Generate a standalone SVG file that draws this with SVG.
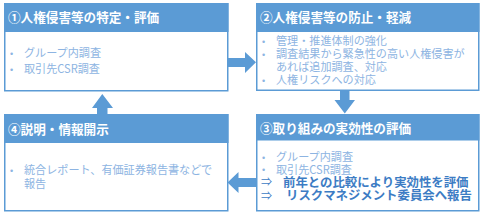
<svg xmlns="http://www.w3.org/2000/svg" width="481" height="214" viewBox="0 0 481 214">
<style>
.box{fill:#ffffff;stroke:#5B9BD5;stroke-width:1.5}
.hdr{fill:#5B9BD5}
.ht{font-family:"Noto Sans CJK JP","Liberation Sans",sans-serif;font-weight:bold;font-size:12.6px;fill:#ffffff}
.bt{font-family:"Noto Sans CJK JP","Liberation Sans",sans-serif;font-size:11.1px;fill:#8DB4E2}
.bl{font-family:"Liberation Sans",sans-serif;font-size:9px;fill:#8DB4E2}
.st{font-family:"Noto Sans CJK JP","Liberation Sans",sans-serif;font-weight:bold;font-size:12.4px;fill:#3C7CC4}
.ar{font-family:"Noto Sans CJK JP","Liberation Sans",sans-serif;font-size:11px;fill:#3C7CC4}
.arrow{fill:#5B9BD5}
</style>
<g id="node1">
<rect class="box" x="4.75" y="3.75" width="223" height="87"/>
<rect class="hdr" x="4" y="3" width="224.5" height="29"/>
<text class="ht" x="8" y="21.8">①人権侵害等の特定・評価</text>
<text class="bl" x="10" y="56.5">•</text>
<text class="bt" x="24" y="57.3">グループ内調査</text>
<text class="bl" x="10" y="72.5">•</text>
<text class="bt" x="24" y="73">取引先CSR調査</text>
</g>
<g id="node2">
<rect class="box" x="256.75" y="3.75" width="222" height="86.5"/>
<rect class="hdr" x="256" y="3" width="223.5" height="29"/>
<text class="ht" x="260" y="22">②人権侵害等の防止・軽減</text>
<text class="bl" x="262" y="44.5">•</text>
<text class="bt" x="276" y="44.8">管理・推進体制の強化</text>
<text class="bl" x="262" y="57.5">•</text>
<text class="bt" x="276" y="57.6">調査結果から緊急性の高い人権侵害が</text>
<text class="bt" x="276" y="70.8">あれば追加調査、対応</text>
<text class="bl" x="262" y="84">•</text>
<text class="bt" x="276" y="84">人権リスクへの対応</text>
</g>
<g id="node3">
<rect class="box" x="256.75" y="114.75" width="222" height="96"/>
<rect class="hdr" x="256" y="114" width="223.5" height="26.5"/>
<text class="ht" x="260" y="133.3">③取り組みの実効性の評価</text>
<text class="bl" x="262" y="160.5">•</text>
<text class="bt" x="276" y="161">グループ内調査</text>
<text class="bl" x="262" y="173">•</text>
<text class="bt" x="276" y="173.5">取引先CSR調査</text>
<text class="ar" x="261" y="186.3">⇒</text>
<text class="st" x="283" y="186.6">前年との比較により実効性を評価</text>
<text class="ar" x="261" y="199.5">⇒</text>
<text class="st" x="286" y="199.9">リスクマネジメント委員会へ報告</text>
</g>
<g id="node4">
<rect class="box" x="4.75" y="114.75" width="223" height="96"/>
<rect class="hdr" x="4" y="114" width="224.5" height="29"/>
<text class="ht" x="8" y="133.5">④説明・情報開示</text>
<text class="bl" x="10" y="173.8">•</text>
<text class="bt" x="24" y="174.3">統合レポート、有価証券報告書などで</text>
<text class="bt" x="24" y="188.3">報告</text>
</g>
<g id="connectors">
<polygon class="arrow" points="228,58 245,58 245,52 256,62.3 245,73 245,67 228,67"/>
<polygon class="arrow" points="340,90 349.5,90 349.5,100 355,100 344.8,113.5 334.5,100 340,100"/>
<polygon class="arrow" points="97,114 97,108 92,108 102.3,94 113,108 107.5,108 107.5,114"/>
<polygon class="arrow" points="256,178 238.5,178 238.5,172 227.5,182.5 238.5,193 238.5,187 256,187"/>
</g>
</svg>
